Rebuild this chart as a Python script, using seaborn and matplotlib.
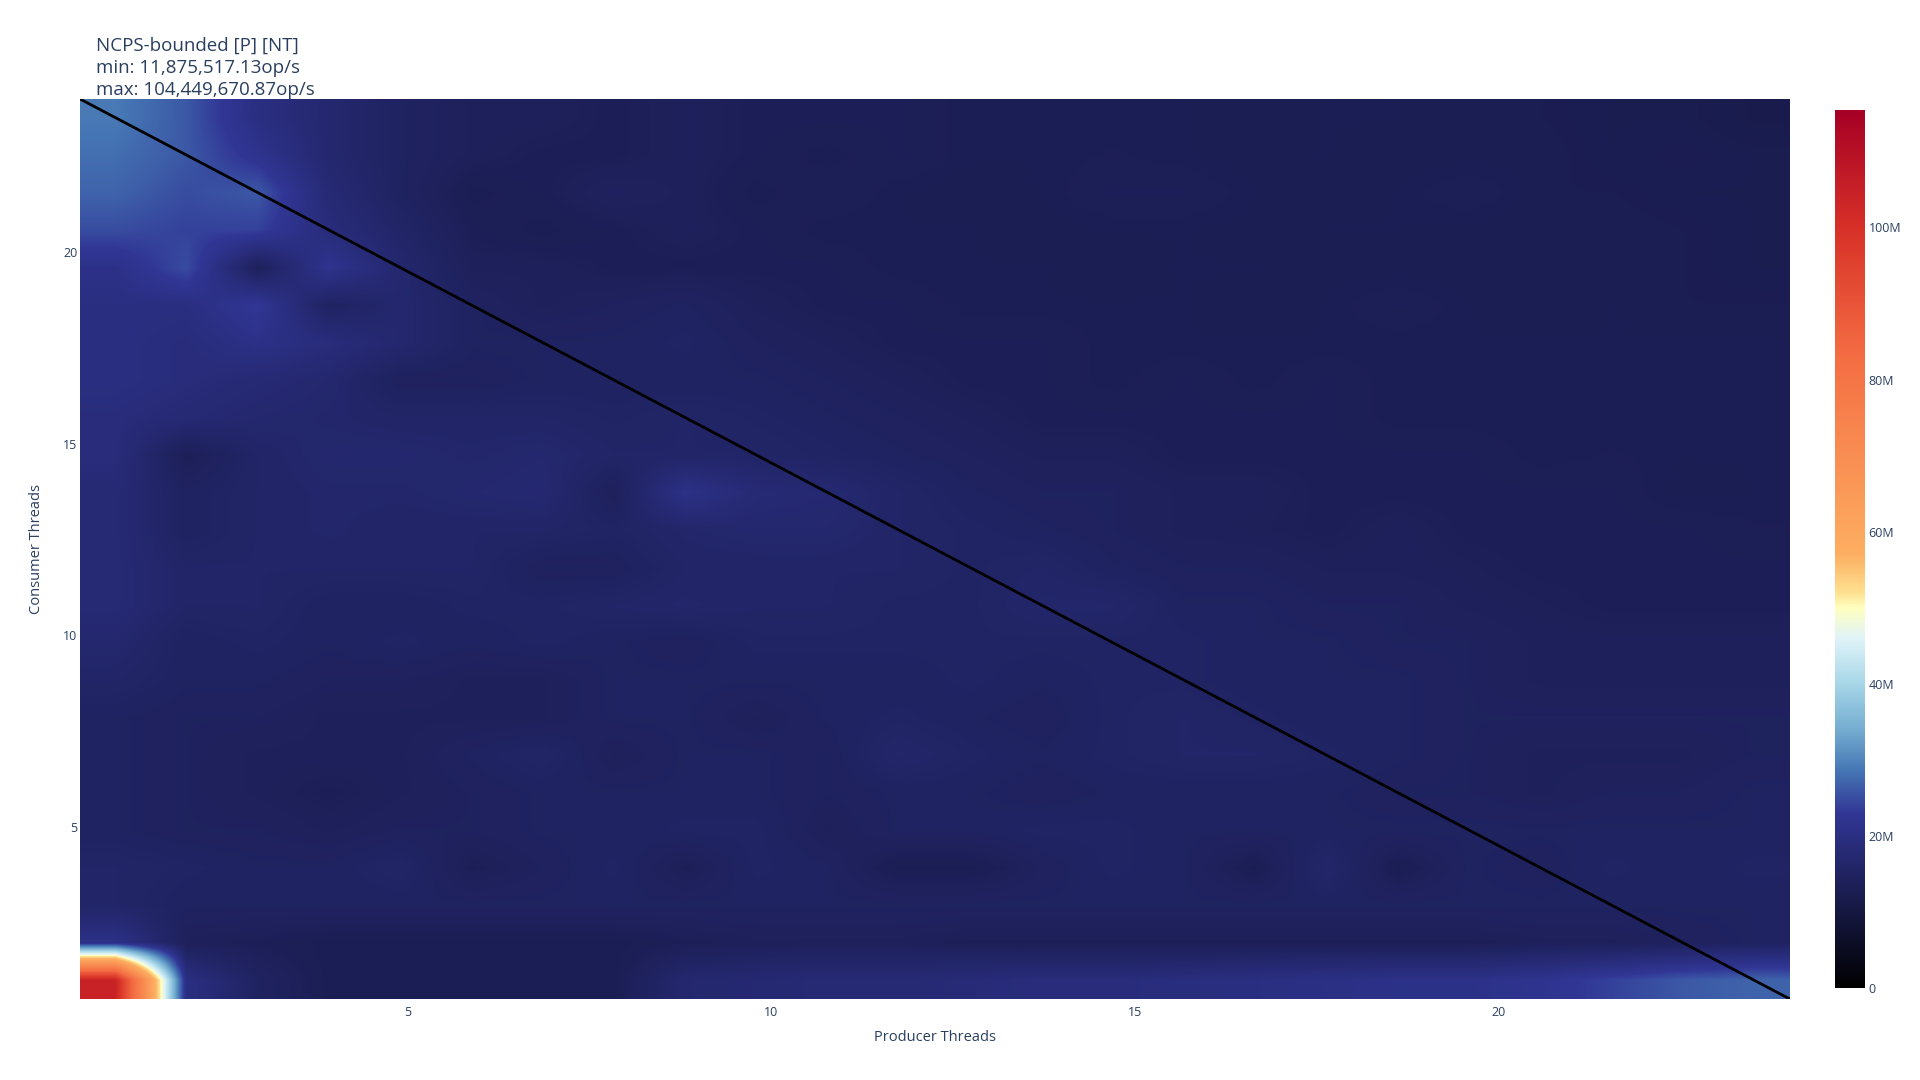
import numpy as np
import pandas as pd
import matplotlib
matplotlib.use("Agg")
import matplotlib.pyplot as plt
from matplotlib.colors import LinearSegmentedColormap
from matplotlib.ticker import FuncFormatter
import seaborn as sns

sns.set_theme(style="white")
plt.rcParams['font.family'] = ['Open Sans', 'DejaVu Sans']

# throughput in millions of op/s, rows = consumer threads 24 .. 1, cols = producer threads 1 .. 24
producers = list(range(1, 25))
consumers = list(range(24, 0, -1))
rows_m = [
    [29, 26, 20, 17, 15, 14, 14, 13.5, 14, 13.5, 13.5, 13.5, 13, 13, 13, 13, 12.8, 13, 13, 12.8, 12.8, 12.5, 12.5, 11.87551713],
    [28, 26, 22, 17, 15, 14, 13.5, 13.5, 14, 13.5, 13, 13.5, 13, 13, 13.2, 13, 12.8, 13, 12.8, 12.8, 13, 12.5, 12.8, 12.5],
    [27, 25, 26, 18, 15, 13, 13.5, 14.5, 14, 13, 13.5, 13, 12.8, 13, 13.5, 13.5, 13, 12.8, 13, 13.5, 12.8, 12.8, 12.5, 12.5],
    [25, 24, 24, 19, 16, 13.5, 13, 13.5, 14, 13.5, 13, 13, 13, 12.8, 13, 13, 12.8, 13, 13, 12.8, 12.8, 13, 12.8, 12.5],
    [21, 25, 14, 22, 17, 14, 14, 13.5, 13.5, 13.5, 13.5, 13, 13, 13, 12.8, 13, 13, 12.8, 12.8, 12.8, 13, 12.8, 12.8, 12.5],
    [20, 20, 23, 15, 17, 15, 14, 14.5, 15, 14, 13.5, 13.5, 13, 13, 13, 13, 12.8, 13, 13.5, 13, 12.8, 13, 12.8, 12.8],
    [20, 19, 21, 19, 17, 15, 15, 15, 15.5, 14.5, 14, 13.5, 13.5, 13.5, 13, 13, 13, 13, 13, 13, 13, 13, 13, 13],
    [20, 19, 18, 17, 14.5, 14.5, 15, 15, 15, 15, 14.5, 14, 13.5, 13.5, 13, 13.5, 13, 13.5, 13, 13, 13, 13, 13, 13],
    [19, 18, 17, 16.5, 16, 16, 16, 15.5, 16, 15.5, 15, 14.5, 14, 13.5, 13.5, 13.5, 13.5, 13.5, 13, 13, 13, 13, 13, 13],
    [19, 13.5, 16, 17, 17, 16.5, 17, 16, 16, 16, 15.5, 15, 14.5, 14, 14, 13.5, 13.5, 13.5, 13.5, 13.5, 13, 13.2, 13, 13],
    [18, 15, 16, 16.5, 16.5, 17, 17.5, 14, 21, 18, 17.5, 16, 15, 14.5, 14.5, 14, 14, 13.5, 13.5, 13.5, 13.5, 13.5, 12.8, 13],
    [18, 15, 16, 16.5, 16, 16, 16, 15.5, 16.5, 17, 17, 16, 15.5, 15, 14.5, 14, 13.8, 13.5, 14, 13.5, 13.5, 13.5, 13.5, 13.2],
    [18, 16, 16, 16, 16, 16, 14.5, 14.5, 16, 16, 16, 16, 15.5, 16, 15, 14.5, 14.5, 14, 14, 13.8, 13.5, 13.5, 13.5, 13.5],
    [18, 16, 16, 15, 15, 15.5, 15.5, 16, 16.5, 16, 16, 15.5, 15.5, 16.5, 16.5, 15, 15, 14.5, 14.5, 14, 13.8, 13.5, 13.5, 13.5],
    [17, 15, 15.5, 15, 15.5, 15, 15.5, 15, 14.5, 15.5, 15.5, 15.5, 15.5, 15.5, 15.5, 15.5, 15, 15, 14.5, 14.5, 14, 14, 14, 14],
    [16, 15, 15, 14.5, 14.5, 14, 14, 15, 15, 15, 15, 15, 15.5, 15, 15.5, 15.5, 15, 15, 15, 14.5, 14, 14, 14, 14],
    [15, 14.5, 14.5, 14, 14, 14, 14, 15, 15, 14, 15, 15.5, 15, 14.5, 15.5, 16, 15.5, 15, 15, 14.5, 14.5, 14.5, 14.5, 14.5],
    [15, 14.5, 14, 14, 14, 15, 16, 14, 15, 15, 14.5, 16.5, 15.5, 15, 15.5, 16, 16, 15.5, 15, 14.5, 14, 14, 14, 14.5],
    [15, 14.5, 14, 13.5, 14, 14.5, 15, 15, 15, 15, 14.5, 15, 15, 14.5, 15, 15, 15, 15, 14.5, 14.5, 14, 14.5, 14.5, 15],
    [15, 14.5, 14.5, 14, 14.5, 14.5, 15, 15, 15.5, 15.5, 14, 15, 15, 15.5, 15.5, 15, 15, 15, 15, 15, 15, 15, 15, 15],
    [16, 15.5, 15, 15, 16, 13.5, 14.5, 15.5, 13.5, 15.5, 15, 13, 13, 14.5, 15.5, 15, 13, 16.5, 13, 15, 14.5, 15.5, 15, 15.5],
    [16, 15, 15, 15, 15, 15, 15, 15, 15, 15, 15, 15, 15, 15, 15, 15, 15, 15, 15, 15, 15, 15, 15, 15],
    [21, 14, 13.5, 13, 13, 13, 13, 13, 13.5, 14, 14, 14, 13.5, 13.5, 13.5, 13.5, 13.5, 13.5, 13.5, 13.5, 14, 14, 14.5, 15],
    [104.44967087, 20, 15, 13, 13, 13, 13, 13, 17, 17.5, 18, 18, 18.5, 19, 19, 19.5, 20, 20.5, 21, 21, 22, 24, 26, 27],
]

df = pd.DataFrame(np.array(rows_m) * 1e6, index=consumers, columns=producers)
zmin_val = df.values.min()
zmax_val = df.values.max()
vmax = zmax_val * 1.105

# black + RdYlBu (reversed) scale, stops in millions up to the top of the bar
stop_vals = [0, 23, 28.5, 34, 40.5, 46, 50, 52, 57, 83, 100, 115.4]
stop_cols = ["#000000", "#313695", "#4575b4", "#74add1", "#abd9e9", "#e0f3f8",
             "#ffffbf", "#fee090", "#fdae61", "#f46d43", "#d73027", "#a50026"]
cmap = LinearSegmentedColormap.from_list(
    "ncps", [(v / stop_vals[-1], c) for v, c in zip(stop_vals, stop_cols)], N=4096)

fig = plt.figure(figsize=(19.2, 10.8), dpi=100)
ax = fig.add_axes([0.0417, 0.075, 0.8905, 0.8333])
cax = fig.add_axes([0.9555, 0.085, 0.0156, 0.813])

x_range = [0.5, 24]
y_range = [0.5, 24]
im = ax.imshow(df.values, cmap=cmap, vmin=0, vmax=vmax, aspect="auto",
               interpolation="bilinear", interpolation_stage="data",
               extent=[x_range[0], x_range[1], y_range[0], y_range[1]])
ax.plot(x_range, y_range[::-1], color="black", lw=2)
ax.set_xlim(x_range)
ax.set_ylim(y_range)

txt = "#2a3f5f"
ax.set_xticks([5, 10, 15, 20])
ax.set_yticks([5, 10, 15, 20])
ax.tick_params(axis="x", length=0, labelsize=9, colors=txt, pad=5)
ax.tick_params(axis="y", length=0, labelsize=9, colors=txt, pad=2)
for s in ax.spines.values():
    s.set_visible(False)
ax.set_xlabel("Producer Threads", fontsize=10.5, color=txt, labelpad=8)
ax.set_ylabel("Consumer Threads", fontsize=10.5, color=txt, labelpad=14)

cb = fig.colorbar(im, cax=cax)
cb.outline.set_visible(False)
cb.set_ticks([0, 20e6, 40e6, 60e6, 80e6, 100e6])
cb.ax.yaxis.set_major_formatter(FuncFormatter(lambda v, p: "0" if v == 0 else f"{v/1e6:.0f}M"))
cb.ax.tick_params(length=0, labelsize=9, colors=txt, pad=3)

title = f"NCPS-bounded [P] [NT]\nmin: {zmin_val:,.2f}op/s\nmax: {zmax_val:,.2f}op/s"
fig.text(0.05, 0.966, title, ha="left", va="top", fontsize=13.5, color=txt, linespacing=1.3)

fig.savefig("out.png", dpi=100)
